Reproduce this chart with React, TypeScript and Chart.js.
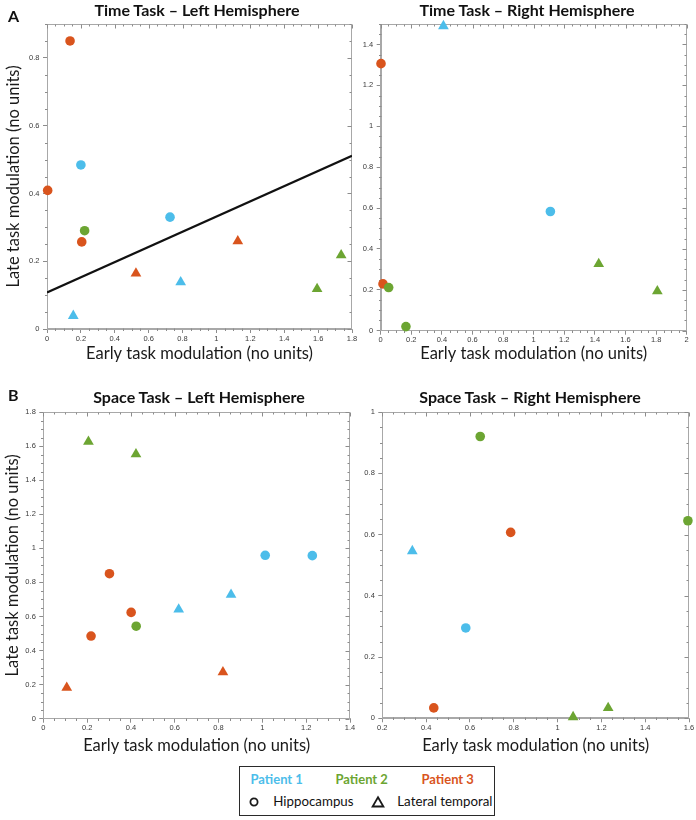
import React, { useEffect, useRef } from 'react';
import { Chart, registerables } from 'chart.js';

Chart.register(...registerables);

type Pt = [number, number];

// ---------- DATA ----------
// Time task, left hemisphere
const timeLeftP1Hippo: Pt[] = [[0.2, 0.484], [0.726, 0.33]];
const timeLeftP1Temporal: Pt[] = [[0.155, 0.039], [0.789, 0.138]];
const timeLeftP2Hippo: Pt[] = [[0.222, 0.29]];
const timeLeftP2Temporal: Pt[] = [[1.594, 0.118], [1.736, 0.218]];
const timeLeftP3Hippo: Pt[] = [[0.136, 0.85], [0.004, 0.409], [0.205, 0.257]];
const timeLeftP3Temporal: Pt[] = [[0.525, 0.164], [1.126, 0.259]];
const timeLeftFit: Pt[] = [[0, 0.108], [1.8, 0.511]];

// Time task, right hemisphere
const timeRightP1Hippo: Pt[] = [[1.109, 0.583]];
const timeRightP1Temporal: Pt[] = [[0.41, 1.49]];
const timeRightP2Hippo: Pt[] = [[0.052, 0.211], [0.165, 0.02]];
const timeRightP2Temporal: Pt[] = [[1.425, 0.327], [1.808, 0.193]];
const timeRightP3Hippo: Pt[] = [[0.002, 1.306], [0.015, 0.229]];
const timeRightP3Temporal: Pt[] = [];

// Space task, left hemisphere
const spaceLeftP1Hippo: Pt[] = [[1.013, 0.959], [1.228, 0.957]];
const spaceLeftP1Temporal: Pt[] = [[0.618, 0.641], [0.857, 0.728]];
const spaceLeftP2Hippo: Pt[] = [[0.424, 0.543]];
const spaceLeftP2Temporal: Pt[] = [[0.206, 1.626], [0.423, 1.553]];
const spaceLeftP3Hippo: Pt[] = [[0.302, 0.851], [0.401, 0.624], [0.218, 0.485]];
const spaceLeftP3Temporal: Pt[] = [[0.107, 0.182], [0.82, 0.273]];

// Space task, right hemisphere
const spaceRightP1Hippo: Pt[] = [[0.581, 0.295]];
const spaceRightP1Temporal: Pt[] = [[0.337, 0.546]];
const spaceRightP2Hippo: Pt[] = [[0.647, 0.92], [1.595, 0.645]];
const spaceRightP2Temporal: Pt[] = [[1.071, 0.004], [1.231, 0.034]];
const spaceRightP3Hippo: Pt[] = [[0.786, 0.607], [0.435, 0.034]];
const spaceRightP3Temporal: Pt[] = [];

// Axis ranges
const timeLeftX = [0, 1.8];
const timeLeftY = [0, 0.9];
const timeRightX = [0, 2];
const timeRightY = [0, 1.5];
const spaceLeftX = [0, 1.4];
const spaceLeftY = [0, 1.8];
const spaceRightX = [0.2, 1.6];
const spaceRightY = [0, 1];
const majorStep = 0.2;
const minorStep = 0.05;

const panelTitles = [
  'Time Task – Left Hemisphere',
  'Time Task – Right Hemisphere',
  'Space Task – Left Hemisphere',
  'Space Task – Right Hemisphere',
];
const xAxisTitle = 'Early task modulation (no units)';
const yAxisTitle = 'Late task modulation (no units)';
const patientNames = ['Patient 1', 'Patient 2', 'Patient 3'];
const regionNames = ['Hippocampus', 'Lateral temporal'];

// ---------- STYLE ----------
const BLUE = '#4cbdea';
const GREEN = '#6ca532';
const ORANGE = '#d9541d';
const FRAME = '#a8a8a8';
const TICKC = '#8c8c8c';
const FONT = 'Lato, "Open Sans", sans-serif';

type Series = { data: Pt[]; color: string; shape: 'circle' | 'triangle' };

interface PanelCfg {
  left: number; top: number; w: number; h: number;
  pad: { left: number; right: number; top: number; bottom: number };
  yW: number; xH: number;
  xr: number[]; yr: number[];
  yTitle: boolean; yTitlePad: number; xTitlePad: number;
  series: Series[];
  fit?: Pt[];
}

const mk = (p1h: Pt[], p1t: Pt[], p2h: Pt[], p2t: Pt[], p3h: Pt[], p3t: Pt[]): Series[] => [
  { data: p1h, color: BLUE, shape: 'circle' },
  { data: p1t, color: BLUE, shape: 'triangle' },
  { data: p2h, color: GREEN, shape: 'circle' },
  { data: p2t, color: GREEN, shape: 'triangle' },
  { data: p3h, color: ORANGE, shape: 'circle' },
  { data: p3t, color: ORANGE, shape: 'triangle' },
];

const panels: PanelCfg[] = [
  {
    left: 0, top: 0, w: 362, h: 372,
    pad: { left: 0, right: 10, top: 24, bottom: 0 },
    yW: 47, xH: 43, xr: timeLeftX, yr: timeLeftY,
    yTitle: true, yTitlePad: 4, xTitlePad: 8.6,
    series: mk(timeLeftP1Hippo, timeLeftP1Temporal, timeLeftP2Hippo, timeLeftP2Temporal, timeLeftP3Hippo, timeLeftP3Temporal),
    fit: timeLeftFit,
  },
  {
    left: 362, top: 0, w: 334, h: 372,
    pad: { left: 0, right: 9.3, top: 24, bottom: 0 },
    yW: 18.7, xH: 41.3, xr: timeRightX, yr: timeRightY,
    yTitle: false, yTitlePad: 0, xTitlePad: 8.1,
    series: mk(timeRightP1Hippo, timeRightP1Temporal, timeRightP2Hippo, timeRightP2Temporal, timeRightP3Hippo, timeRightP3Temporal),
  },
  {
    left: 0, top: 372, w: 362, h: 390,
    pad: { left: 0, right: 12, top: 40, bottom: 0 },
    yW: 43.3, xH: 43.3, xr: spaceLeftX, yr: spaceLeftY,
    yTitle: true, yTitlePad: 3.1, xTitlePad: 6.6,
    series: mk(spaceLeftP1Hippo, spaceLeftP1Temporal, spaceLeftP2Hippo, spaceLeftP2Temporal, spaceLeftP3Hippo, spaceLeftP3Temporal),
  },
  {
    left: 362, top: 372, w: 334, h: 390,
    pad: { left: 0, right: 7, top: 40, bottom: 0 },
    yW: 20.3, xH: 43.7, xr: spaceRightX, yr: spaceRightY,
    yTitle: false, yTitlePad: 0, xTitlePad: 6.2,
    series: mk(spaceRightP1Hippo, spaceRightP1Temporal, spaceRightP2Hippo, spaceRightP2Temporal, spaceRightP3Hippo, spaceRightP3Temporal),
  },
];

// Frame + minor ticks plugin (positions from the chart's own scales)
const framePlugin = {
  id: 'frame',
  beforeDatasetsDraw(chart: any) {
    const { ctx, chartArea: a } = chart;
    const xs = chart.scales.x;
    const ys = chart.scales.y;
    ctx.save();
    ctx.lineWidth = 1;
    ctx.strokeStyle = FRAME;
    const L = Math.round(a.left) + 0.5;
    const R = Math.round(a.right) - 0.5;
    const T = Math.round(a.top) + 0.5;
    const B = Math.round(a.bottom) - 0.5;
    ctx.strokeRect(L, T, R - L, B - T);
    ctx.strokeStyle = TICKC;
    ctx.beginPath();
    const each = (scale: any, cb: (px: number, major: boolean) => void) => {
      const n = Math.round((scale.max - scale.min) / minorStep);
      for (let i = 0; i <= n; i++) {
        const v = scale.min + i * minorStep;
        const q = v / majorStep;
        const major = Math.abs(q - Math.round(q)) < 1e-6;
        cb(Math.round(scale.getPixelForValue(v)) + 0.5, major);
      }
    };
    each(xs, (px, major) => {
      const len = major ? 4 : 2;
      if (!major) { ctx.moveTo(px, B); ctx.lineTo(px, B + 2.5); }
      ctx.moveTo(px, T); ctx.lineTo(px, T + len);
    });
    each(ys, (py, major) => {
      const len = major ? 4 : 2;
      if (!major) { ctx.moveTo(L, py); ctx.lineTo(L - 2.5, py); }
      ctx.moveTo(R, py); ctx.lineTo(R - len, py);
    });
    ctx.stroke();
    ctx.restore();
  },
};

const fmt = (v: any) => String(Math.round(Number(v) * 100) / 100);

function Panel({ cfg }: { cfg: PanelCfg }) {
  const ref = useRef<HTMLCanvasElement>(null);
  useEffect(() => {
    const datasets: any[] = [];
    if (cfg.fit) {
      datasets.push({
        data: cfg.fit.map(([x, y]) => ({ x, y })),
        showLine: true,
        borderColor: '#111111',
        borderWidth: 2.2,
        pointRadius: 0,
      });
    }
    cfg.series.forEach((s) => {
      datasets.push({
        data: s.data.map(([x, y]) => ({ x, y })),
        pointStyle: s.shape,
        pointRadius: s.shape === 'circle' ? 4.8 : 6.2,
        backgroundColor: s.color,
        borderColor: s.color,
        borderWidth: 0,
        clip: false,
      });
    });
    const tickFont = { family: '"Liberation Sans", Arial, sans-serif', size: 7.5, lineHeight: 1.2 };
    const titleFont = { family: FONT, size: 16.5, lineHeight: 1.2 };
    const chart = new Chart(ref.current as HTMLCanvasElement, {
      type: 'scatter',
      data: { datasets },
      plugins: [framePlugin],
      options: {
        animation: false,
        responsive: false,
        maintainAspectRatio: false,
        events: [],
        layout: { padding: cfg.pad },
        plugins: { legend: { display: false }, tooltip: { enabled: false }, title: { display: false } },
        scales: {
          x: {
            type: 'linear',
            min: cfg.xr[0],
            max: cfg.xr[1],
            afterFit: (s: any) => { s.height = cfg.xH; },
            grid: { display: true, drawOnChartArea: false, drawTicks: true, tickLength: 4, color: TICKC },
            border: { display: true, color: FRAME },
            ticks: { stepSize: majorStep, includeBounds: false, autoSkip: false, maxRotation: 0, padding: 1, color: '#3a3a3a', font: tickFont, callback: fmt },
            title: { display: true, text: xAxisTitle, color: '#1a1a1a', font: titleFont, padding: { top: 0, bottom: cfg.xTitlePad } },
          },
          y: {
            type: 'linear',
            min: cfg.yr[0],
            max: cfg.yr[1],
            afterFit: (s: any) => { s.width = cfg.yW; },
            grid: { display: true, drawOnChartArea: false, drawTicks: true, tickLength: 4, color: TICKC },
            border: { display: true, color: FRAME },
            ticks: { stepSize: majorStep, includeBounds: false, autoSkip: false, padding: 3.5, color: '#3a3a3a', font: tickFont, callback: fmt },
            title: { display: cfg.yTitle, text: yAxisTitle, color: '#1a1a1a', font: titleFont, padding: { top: cfg.yTitlePad, bottom: 0 } },
          },
        },
      } as any,
    });
    return () => chart.destroy();
  }, [cfg]);
  return (
    <canvas
      ref={ref}
      width={cfg.w}
      height={cfg.h}
      style={{ position: 'absolute', left: cfg.left, top: cfg.top, width: cfg.w, height: cfg.h }}
    />
  );
}

const titlePos = [
  { cx: 197, top: 0 },
  { cx: 527, top: 0 },
  { cx: 199, top: 387 },
  { cx: 530, top: 387 },
];

export default function App() {
  const abs = (o: React.CSSProperties): React.CSSProperties => ({ position: 'absolute', ...o });
  return (
    <div style={{ position: 'absolute', left: 0, top: 0, width: 696, height: 820, background: '#fff', fontFamily: FONT, color: '#111' }}>
      {panels.map((p, i) => <Panel key={i} cfg={p} />)}
      {panelTitles.map((t, i) => (
        <div key={t} style={abs({ left: titlePos[i].cx - 170, top: titlePos[i].top, width: 340, textAlign: 'center', fontSize: 16, lineHeight: '20px', fontWeight: 700, whiteSpace: 'nowrap' })}>{t}</div>
      ))}
      <div style={abs({ left: 8, top: 6, fontSize: 16, lineHeight: '20px', fontWeight: 700 })}>A</div>
      <div style={abs({ left: 8, top: 385, fontSize: 16, lineHeight: '20px', fontWeight: 700 })}>B</div>
      {/* Legend */}
      <div style={abs({ left: 239, top: 766, width: 256, height: 50, border: '1.5px solid #2a2a2a', boxSizing: 'border-box', background: '#fff' })} />
      {patientNames.map((n, i) => (
        <div key={n} style={abs({ left: [276.7, 361.7, 447.7][i] - 40, top: 770.5, width: 80, textAlign: 'center', fontSize: 13, lineHeight: '16px', fontWeight: 700, color: [BLUE, GREEN, ORANGE][i], whiteSpace: 'nowrap' })}>{n}</div>
      ))}
      <svg width={14} height={14} style={abs({ left: 247, top: 795 })}>
        <circle cx={7} cy={7} r={3.6} fill="none" stroke="#1a1a1a" strokeWidth={1.8} />
      </svg>
      <div style={abs({ left: 273.3, top: 793, fontSize: 13.3, lineHeight: '16px', whiteSpace: 'nowrap' })}>{regionNames[0]}</div>
      <svg width={16} height={14} style={abs({ left: 370.3, top: 795 })}>
        <polygon points="8,2.2 13.4,11.5 2.6,11.5" fill="none" stroke="#1a1a1a" strokeWidth={1.8} strokeLinejoin="miter" />
      </svg>
      <div style={abs({ left: 397.3, top: 793, fontSize: 13.3, lineHeight: '16px', whiteSpace: 'nowrap' })}>{regionNames[1]}</div>
    </div>
  );
}
